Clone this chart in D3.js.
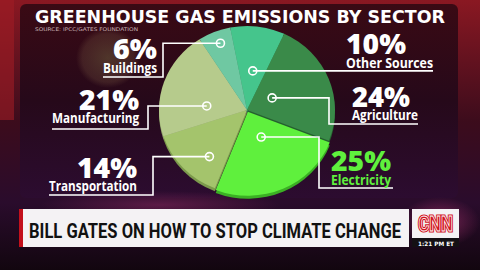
<!DOCTYPE html>
<html><head><meta charset="utf-8">
<script src="https://cdn.jsdelivr.net/npm/d3@7"></script>
<style>html,body{margin:0;padding:0;background:#1a0818;overflow:hidden}</style>
</head><body>
<svg id="c" width="480" height="270" xmlns:xlink="http://www.w3.org/1999/xlink"></svg>
<script>
// ---- data ----
const sectors = ["Other Sources","Agriculture","Electricity","Transportation","Manufacturing","Buildings"];
const shares = [10,24,25,14,21,6];
const pctLabels = ["10%","24%","25%","14%","21%","6%"];
const colors = ["#45c58c","#3a8a49","#5ff03d","#a4c46c","#b6cb8c","#6fc8a2"];
const sideColors = ["#2e8a5f","#25602f","#3bb024","#7c9a4c","#8da068","#4d9879"];
const title = "GREENHOUSE GAS EMISSIONS BY SECTOR";
const source = "SOURCE: IPCC/GATES FOUNDATION";
const headline = "BILL GATES ON HOW TO STOP CLIMATE CHANGE";
const clock = "1:21 PM ET";

// ---- layout (positions/styles) ----
const layout = {
  "Other Sources": {dotOff:1, dotR:0.47, side:"r", x:346, pctY:54, nameY:68, lineY:null, elbow:null, end:433, pctW:60, nameW:87},
  "Agriculture":   {dotOff:-5, dotR:0.32, side:"r", x:352, pctY:107, nameY:120, lineY:124, elbow:329, end:418, pctW:58, nameW:66},
  "Electricity":   {dotOff:-3, dotR:0.36, side:"r", x:331, pctY:171, nameY:185, lineY:188, elbow:319, end:393, pctW:60, nameW:60},
  "Transportation":{dotOff:-9, dotR:0.70, side:"l", x:137, pctY:178, nameY:191, lineY:195, elbow:153, end:49, pctW:60, nameW:88},
  "Manufacturing": {dotOff:-13.6, dotR:0.46, side:"l", x:139, pctY:110, nameY:123, lineY:129, elbow:148, end:52, pctW:60, nameW:87},
  "Buildings":     {dotOff:1, dotR:0.85, side:"l", x:157, pctY:59, nameY:73, lineY:77, elbow:163, end:103, pctW:44, nameW:54}
};
const W = 480, H = 270;
const cx = 247, cy = 110, R = 88, sy = 84/88;
const startDeg = -11;

const svg = d3.select("#c");
const defs = svg.append("defs");

// background gradients
const bg = defs.append("linearGradient").attr("id","bg").attr("x1",0).attr("y1",0).attr("x2",0).attr("y2",1);
bg.append("stop").attr("offset",0).attr("stop-color","#8a1822");
bg.append("stop").attr("offset",0.45).attr("stop-color","#3c0c1c");
bg.append("stop").attr("offset",0.75).attr("stop-color","#2a0c2c");
bg.append("stop").attr("offset",1).attr("stop-color","#12060f");
const panel = defs.append("linearGradient").attr("id","panel").attr("x1",0).attr("y1",0).attr("x2",0).attr("y2",1);
panel.append("stop").attr("offset",0).attr("stop-color","#3a0a14");
panel.append("stop").attr("offset",0.5).attr("stop-color","#26091a");
panel.append("stop").attr("offset",1).attr("stop-color","#2c0c30");
const glow = defs.append("radialGradient").attr("id","glow");
glow.append("stop").attr("offset",0).attr("stop-color","#a0306a").attr("stop-opacity",0.7);
glow.append("stop").attr("offset",1).attr("stop-color","#a0306a").attr("stop-opacity",0);
const spot = defs.append("radialGradient").attr("id","spot");
spot.append("stop").attr("offset",0).attr("stop-color","#6a5a3a").attr("stop-opacity",0.55);
spot.append("stop").attr("offset",0.8).attr("stop-color","#6a4a3a").attr("stop-opacity",0.35);
spot.append("stop").attr("offset",1).attr("stop-color","#6a4a3a").attr("stop-opacity",0);

svg.append("rect").attr("width",W).attr("height",H).attr("fill","url(#bg)");
svg.append("rect").attr("x",0).attr("y",0).attr("width",14).attr("height",120).attr("fill","#a01c24").attr("opacity",0.6);
svg.append("rect").attr("x",20).attr("y",4).attr("width",438).attr("height",194).attr("rx",6).attr("fill","url(#panel)");
svg.append("ellipse").attr("cx",440).attr("cy",222).attr("rx",40).attr("ry",25).attr("fill","url(#glow)");
svg.append("ellipse").attr("cx",160).attr("cy",205).attr("rx",120).attr("ry",14).attr("fill","url(#glow)").attr("opacity",0.6);
svg.append("ellipse").attr("cx",108).attr("cy",58).attr("rx",32).attr("ry",30).attr("fill","url(#spot)");

// title
svg.append("text").attr("x",35).attr("y",23).text(title)
  .attr("font-family","DejaVu Sans").attr("font-weight","bold").attr("font-size",18)
  .attr("fill","#fff").attr("textLength",410).attr("lengthAdjust","spacingAndGlyphs");
svg.append("text").attr("x",35).attr("y",31).text(source)
  .attr("font-family","DejaVu Sans").attr("font-size",5).attr("fill","#c9b3b6")
  .attr("textLength",103).attr("lengthAdjust","spacingAndGlyphs");

// pie
const deg = Math.PI/180;
const pie = d3.pie().sort(null).startAngle(startDeg*deg).endAngle(startDeg*deg + 2*Math.PI);
const arcs = pie(shares);
const arc = d3.arc().innerRadius(0).outerRadius(R);

function explode(d,k){
  const m=(d.startAngle+d.endAngle)/2;
  return `translate(${k*Math.sin(m)},${-k*Math.cos(m)})`;
}

const sideG = svg.append("g").attr("transform",`translate(${cx},${cy+3}) scale(1,${sy})`);
sideG.selectAll("path").data(arcs).join("path")
  .attr("d",arc).attr("fill",(d,i)=>sideColors[i])
  .attr("transform",(d,i)=> sectors[i]==="Electricity" ? explode(d,2) : null);
const faceG = svg.append("g").attr("transform",`translate(${cx},${cy}) scale(1,${sy})`);
faceG.selectAll("path").data(arcs).join("path")
  .attr("d",arc).attr("fill",(d,i)=>colors[i])
  .attr("transform",(d,i)=> sectors[i]==="Electricity" ? explode(d,2) : null);

// connectors & labels
const g = svg.append("g");
arcs.forEach((d,i)=>{
  const name = sectors[i], L = layout[name];
  const a = (d.startAngle+d.endAngle)/2 + L.dotOff*deg;
  const dx = cx + L.dotR*R*Math.sin(a);
  const dy = cy - L.dotR*R*Math.cos(a)*sy;
  let path;
  if (L.elbow===null) path = `M${dx},${dy}H${L.end}`;
  else path = `M${dx},${dy}H${L.elbow}V${L.lineY}H${L.end}`;
  g.append("path").attr("d",path).attr("fill","none").attr("stroke","#fff").attr("stroke-width",1.6);
  g.append("circle").attr("cx",dx).attr("cy",dy).attr("r",4).attr("fill","none").attr("stroke","#fff").attr("stroke-width",1.6);
  const anchor = L.side==="l" ? "end" : "start";
  const fill = name==="Electricity" ? "#5ff03d" : "#fff";
  g.append("text").attr("x",L.x).attr("y",L.pctY).attr("text-anchor",anchor).text(pctLabels[i])
    .attr("font-family","Open Sans").attr("font-weight",800).attr("font-size",29).attr("fill",fill)
    .attr("textLength",L.pctW).attr("lengthAdjust","spacingAndGlyphs");
  g.append("text").attr("x",L.x).attr("y",L.nameY).attr("text-anchor",anchor).text(name)
    .attr("font-family","Open Sans").attr("font-weight",700).attr("font-size",14).attr("fill",fill)
    .attr("textLength",L.nameW).attr("lengthAdjust","spacingAndGlyphs");
});

// lower third banner
svg.append("rect").attr("x",22).attr("y",209).attr("width",387).attr("height",38).attr("fill","#f4f2f4");
svg.append("rect").attr("x",19).attr("y",209).attr("width",4).attr("height",38).attr("fill","#c3101c");
svg.append("text").attr("x",29).attr("y",238).text(headline)
  .attr("font-family","Roboto, sans-serif").attr("font-weight","bold").attr("font-size",20)
  .attr("fill","#111").attr("textLength",372).attr("lengthAdjust","spacingAndGlyphs");
svg.append("rect").attr("x",412).attr("y",209).attr("width",47).attr("height",29).attr("fill","#f4f2f4");
svg.append("rect").attr("x",412).attr("y",238).attr("width",47).attr("height",9).attr("fill","#141014");
defs.append("text").attr("id","cnnword").attr("x",435.5).attr("y",231).attr("text-anchor","middle").text("CNN")
  .attr("font-family","Roboto, sans-serif").attr("font-weight","bold").attr("font-size",20)
  .attr("textLength",34).attr("lengthAdjust","spacingAndGlyphs");
const logo = svg.append("g").attr("fill","none");
logo.append("use").attr("href","#cnnword").attr("stroke","#d0141e").attr("stroke-width",3.2);
logo.append("use").attr("href","#cnnword").attr("stroke","#fff").attr("stroke-width",0.8);
svg.append("text").attr("x",436).attr("y",245.5).attr("text-anchor","middle").text(clock)
  .attr("font-family","DejaVu Sans").attr("font-weight","bold").attr("font-size",6).attr("fill","#fff")
  .attr("textLength",36).attr("lengthAdjust","spacingAndGlyphs");
</script>
</body></html>
